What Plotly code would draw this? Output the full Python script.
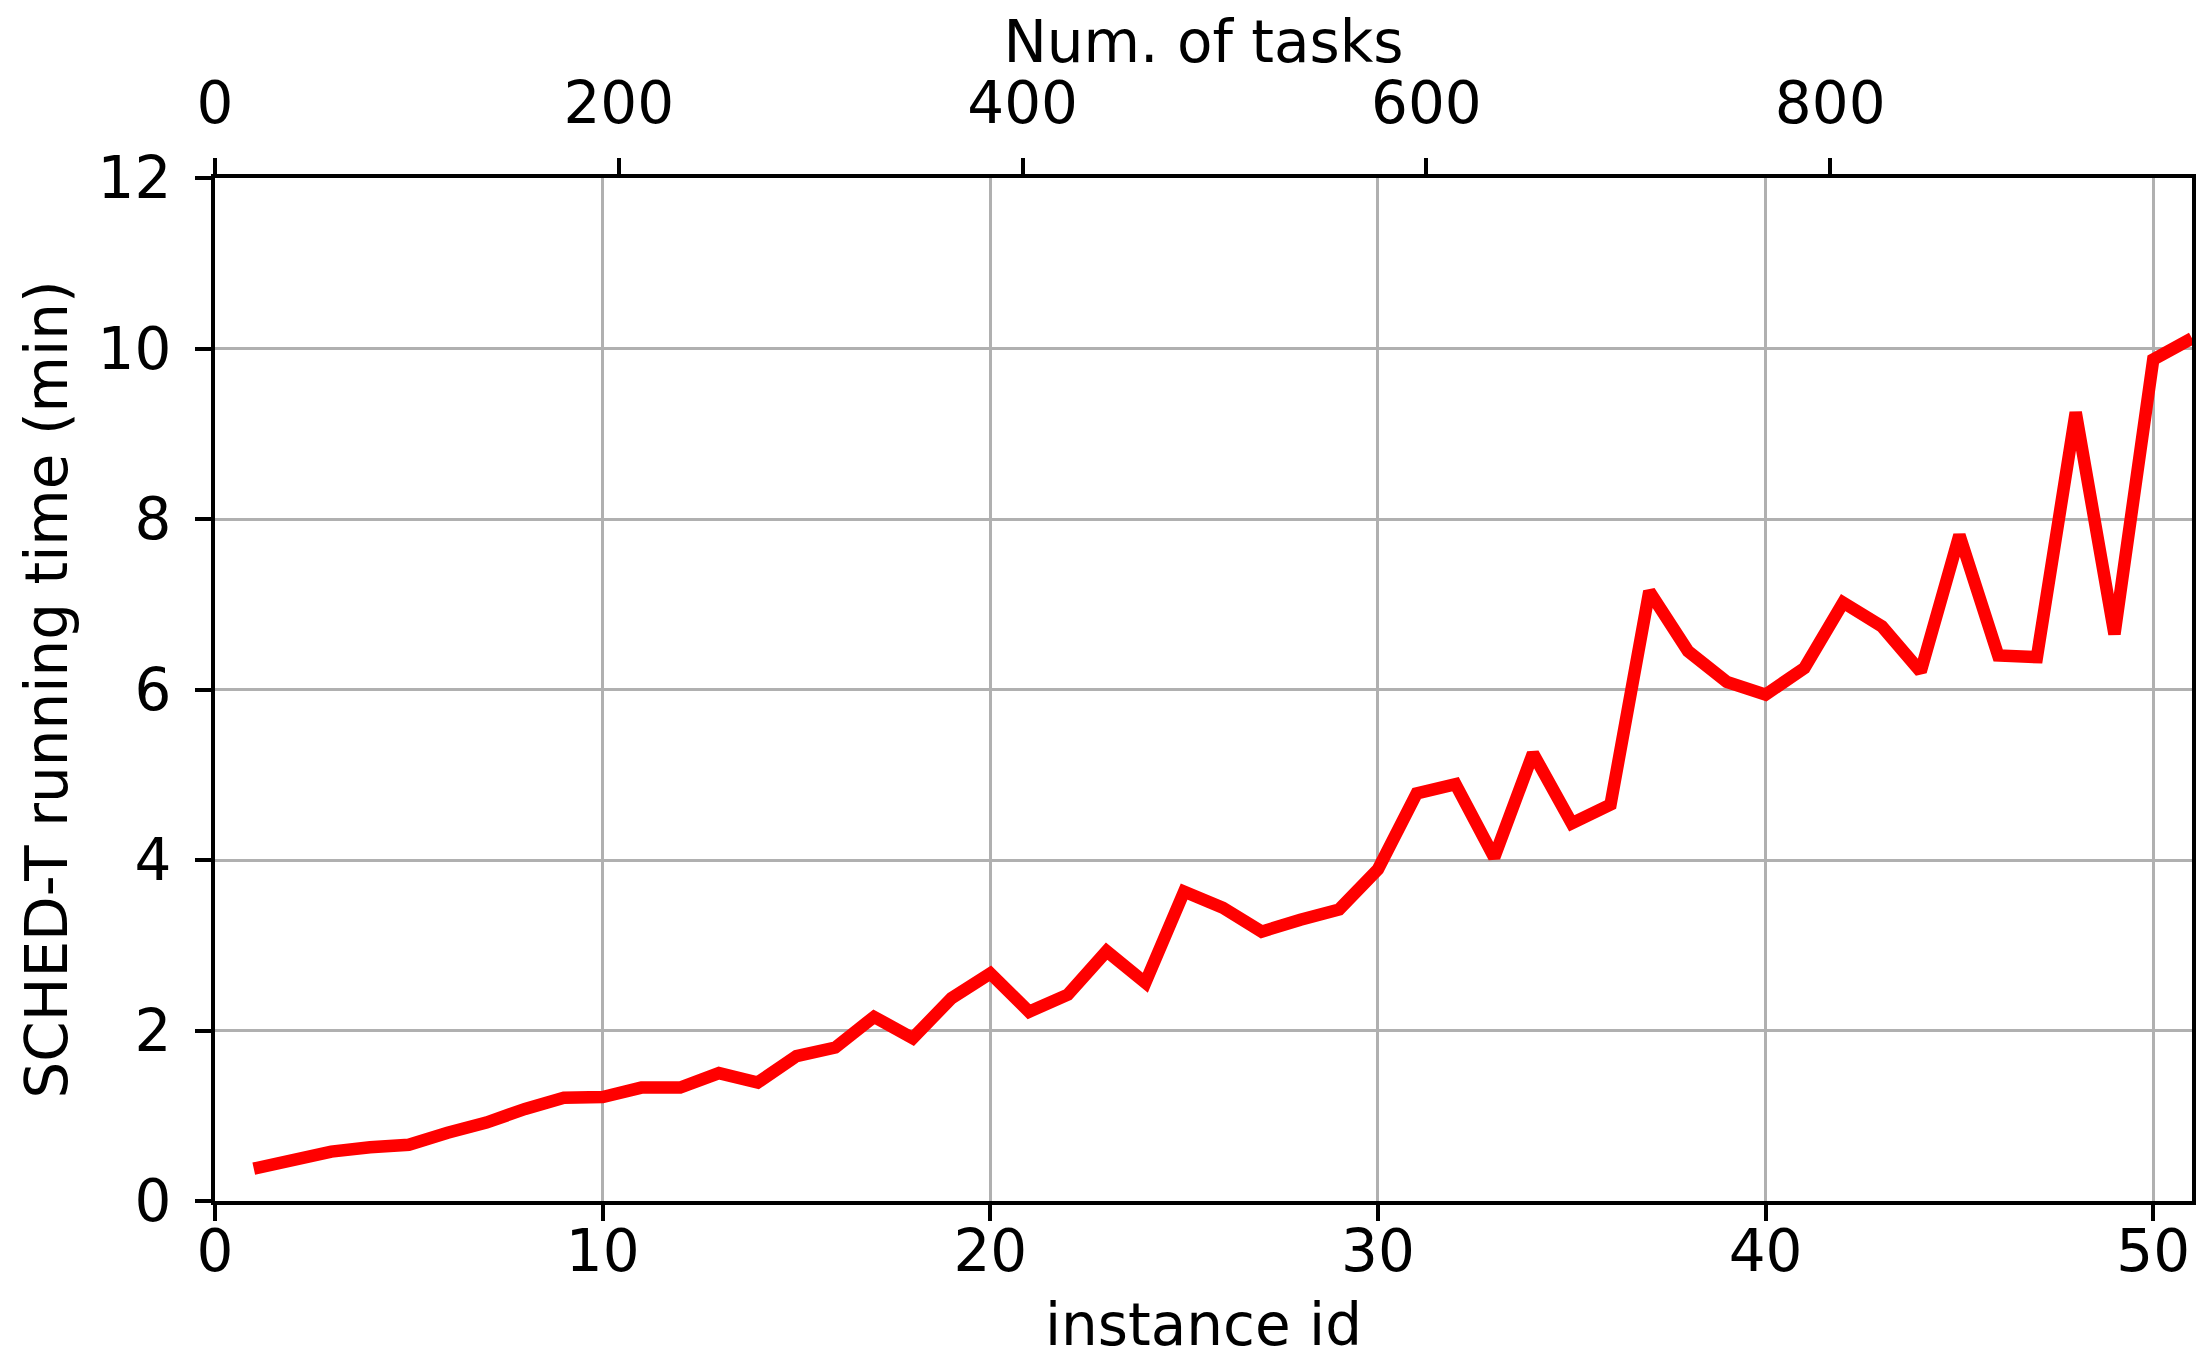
import plotly.graph_objects as go

instance_id = list(range(1, 52))
running_time = [0.38, 0.48, 0.58, 0.63, 0.66, 0.80, 0.92, 1.08, 1.21, 1.22,
                1.33, 1.33, 1.50, 1.39, 1.70, 1.80, 2.16, 1.91, 2.38, 2.67,
                2.22, 2.42, 2.93, 2.56, 3.63, 3.44, 3.16, 3.30, 3.42, 3.89,
                4.78, 4.89, 4.03, 5.25, 4.43, 4.65, 7.15, 6.45, 6.09, 5.94,
                6.25, 7.02, 6.74, 6.21, 7.81, 6.40, 6.38, 9.25, 6.65, 9.87,
                10.12]
x_ticks = [0, 10, 20, 30, 40, 50]
y_ticks = [0, 2, 4, 6, 8, 10, 12]
task_ticks = [0, 200, 400, 600, 800]
x_range = [0, 51]
task_range = [0, 979.2]
y_range = [0, 12]

FONT = "DejaVu Sans"
FS = 58

fig = go.Figure()
fig.add_trace(go.Scatter(x=instance_id, y=running_time, mode="lines",
                         line=dict(color="#ff0000", width=12.5),
                         showlegend=False))
# invisible trace for the top axis
fig.add_trace(go.Scatter(x=task_range, y=y_range, xaxis="x2", mode="lines",
                         line=dict(width=0), opacity=0, showlegend=False,
                         hoverinfo="skip"))

axis_common = dict(showline=True, linecolor="black", linewidth=4,
                   ticks="outside", ticklen=16, tickwidth=4, tickcolor="black",
                   tickfont=dict(family=FONT, size=FS, color="black"),
                   zeroline=False, automargin=False)

fig.update_layout(
    width=2209, height=1362,
    margin=dict(l=207, r=25, t=170, b=169),
    paper_bgcolor="white", plot_bgcolor="white",
    font=dict(family=FONT, size=FS, color="black"),
    xaxis=dict(range=x_range, tickvals=x_ticks, mirror=True,
               showgrid=True, gridcolor="#b0b0b0", gridwidth=3,
               ticklabelstandoff=-20,
               title=dict(text="instance id", font=dict(family=FONT, size=FS),
                          standoff=22),
               **axis_common),
    xaxis2=dict(range=task_range, tickvals=task_ticks, overlaying="x",
                side="top", showgrid=False, ticklabelstandoff=12,
                title=dict(text="Num. of tasks", font=dict(family=FONT, size=FS),
                           standoff=0),
                **axis_common),
    yaxis=dict(range=y_range, tickvals=y_ticks, mirror=True,
               showgrid=True, gridcolor="#b0b0b0", gridwidth=3,
               ticklabelstandoff=12,
               title=dict(text="SCHED-T running time (min)",
                          font=dict(family=FONT, size=FS), standoff=12),
               **axis_common),
)

fig.write_html("out.html")
